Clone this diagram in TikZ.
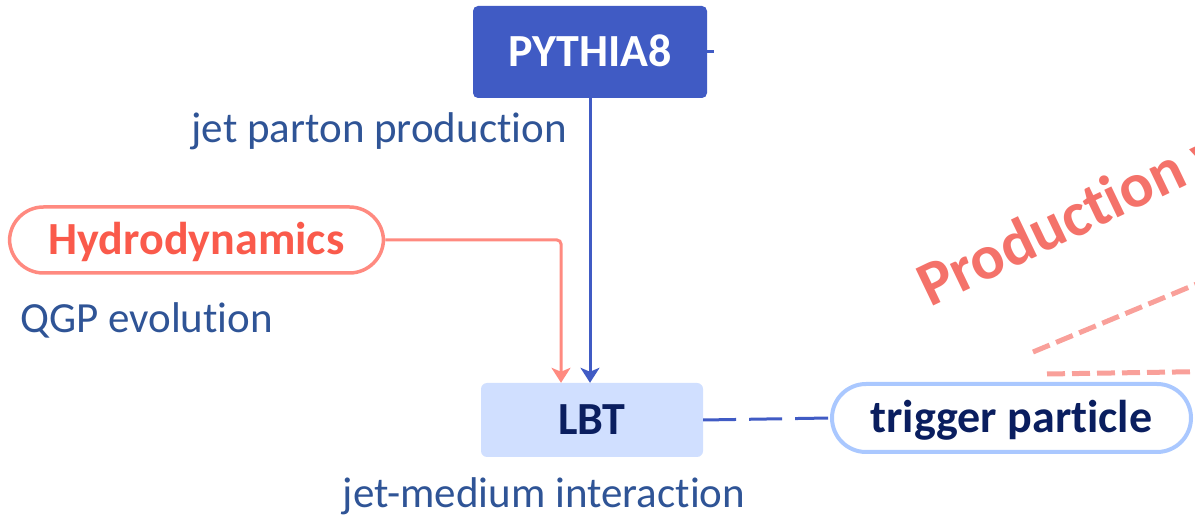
\documentclass[tikz,border=0pt]{standalone}
\usepackage{fontspec}
\setmainfont{Carlito}[Ligatures={NoCommon,NoContextual,NoRare}]
\usetikzlibrary{arrows.meta}

\definecolor{pyblue}{RGB}{64,91,196}
\definecolor{hydroline}{RGB}{255,138,128}
\definecolor{hydrotext}{RGB}{250,90,75}
\definecolor{labelblue}{RGB}{47,84,150}
\definecolor{lbtfill}{RGB}{208,223,255}
\definecolor{navy}{RGB}{10,30,95}
\definecolor{trigline}{RGB}{170,200,255}
\definecolor{prodred}{RGB}{244,114,106}
\definecolor{prodline}{RGB}{249,160,154}

\tikzset{
  bigfont/.style={font=\fontsize{43}{50}\selectfont},
  boldfont/.style={font=\fontsize{46}{54}\selectfont\bfseries},
  boxbase/.style={inner sep=0pt, text height=32pt, text depth=3pt},
  pybox/.style={boxbase, boldfont, fill=pyblue, text=white, rounded corners=5pt,
    minimum width=234pt, minimum height=92pt},
  hydrobox/.style={boxbase, boldfont, draw=hydroline, line width=3.5pt, fill=white,
    text=hydrotext, rounded corners=34pt, minimum width=374pt, minimum height=66pt},
  lbtbox/.style={boxbase, boldfont, fill=lbtfill, text=navy, rounded corners=6pt,
    minimum width=222pt, minimum height=74pt},
  trigbox/.style={boxbase, boldfont, draw=trigline, line width=4pt, fill=white,
    text=navy, rounded corners=34pt, minimum width=359pt, minimum height=68pt},
  desc/.style={bigfont, text=labelblue, inner sep=0pt},
  blueflow/.style={draw=pyblue, line width=3pt},
  pinkflow/.style={draw=hydroline, line width=3pt},
  tip/.style={-{Stealth[length=15pt,width=19pt,inset=4pt]}},
  pinkdash/.style={draw=prodline, line width=5pt, dash pattern=on 18pt off 7pt},
}

\begin{document}
\begin{tikzpicture}[x=1pt, y=-1pt]
  \useasboundingbox (0,0) rectangle (1195,518);

  % main flow boxes
  \node[pybox]    (py)    at (590,52)    {PYTHIA8};
  \node[hydrobox] (hydro) at (196.5,240) {Hydrodynamics};
  \node[lbtbox]   (lbt)   at (592,420)   {LBT};
  \node[trigbox]  (trig)  at (1011.5,418) {trigger particle};

  % stage descriptions
  \node[desc, anchor=base east] (ptext) at (567,143) {jet parton production};
  \node[desc, anchor=base west] (qtext) at (20,333)  {QGP evolution};
  \node[desc, anchor=base]      (mtext) at (544,508) {jet-medium interaction};

  % connectors
  \draw[blueflow] (py.east) -- ++(7,0);
  \draw[blueflow, tip] (py.south) -- (py.south |- lbt.north);
  \draw[pinkflow, tip, rounded corners=4pt] (hydro.east) -| ([xshift=-31pt]lbt.north);
  \draw[blueflow, dash pattern=on 33pt off 13pt] (lbt.east) -- (trig.west);

  % outgoing branch, running off the right edge
  \begin{scope}
    \clip (0,0) rectangle (1195,518);
    \node[font=\fontsize{63}{72}\selectfont\bfseries, text=prodred, inner sep=0pt,
      anchor=base west, rotate=25.6] (prod) at (930,308) {Production w};
    \coordinate (d1) at (1033,352);
    \coordinate (d1end) at (1240,266);
    \coordinate (d2) at (1047,374);
    \coordinate (d2end) at (1240,371);
    \draw[pinkdash] (d1) -- (d1end);
    \draw[pinkdash] (d2) -- (d2end);
  \end{scope}
\end{tikzpicture}
\end{document}
